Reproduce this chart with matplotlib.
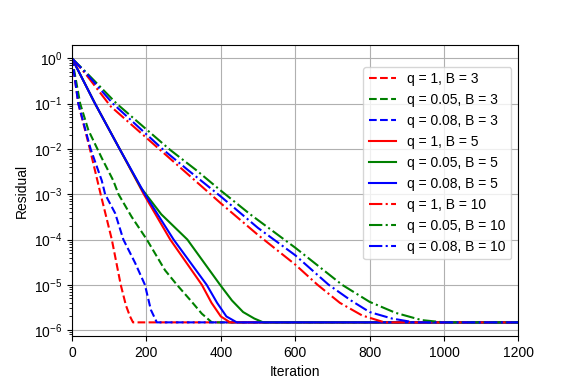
"""Residual vs iteration for different q and block sizes B."""

import matplotlib.pyplot as plt

plt.rcParams["font.family"] = ["Liberation Sans", "DejaVu Sans"]
plt.rcParams["mathtext.fontset"] = "custom"
plt.rcParams["mathtext.rm"] = "Liberation Sans"
plt.rcParams["font.size"] = 10

# values (iteration, residual)
it_q1_b3 = [0, 17, 48, 77, 107, 131, 145, 156, 164, 1200]
res_q1_b3 = [1.0, 1e-1, 1e-2, 1e-3, 1e-4, 1e-5, 3.5e-6, 2.0e-6, 1.48e-6, 1.48e-6]

it_q005_b3 = [0, 22, 44, 80, 111, 125, 160, 201, 250, 282, 320, 349, 376, 1200]
res_q005_b3 = [1.0, 1e-1, 2.6e-2, 6.3e-3, 2.0e-3, 1e-3, 3.2e-4, 1e-4, 2.1e-5,
               1e-5, 4.4e-6, 2.3e-6, 1.48e-6, 1.48e-6]

it_q008_b3 = [0, 17, 50, 80, 89, 116, 138, 170, 196, 212, 228, 1200]
res_q008_b3 = [1.0, 1e-1, 1e-2, 2.0e-3, 1e-3, 3.8e-4, 1e-4, 3.0e-5, 1e-5,
               2.8e-6, 1.48e-6, 1.48e-6]

it_q1_b5 = [0, 62, 128, 193, 264, 349, 375, 400, 425, 1200]
res_q1_b5 = [1.0, 1e-1, 1e-2, 1e-3, 1e-4, 1e-5, 4.0e-6, 2.0e-6, 1.48e-6, 1.48e-6]

it_q005_b5 = [0, 62, 128, 185, 240, 310, 398, 430, 460, 490, 514, 1200]
res_q005_b5 = [1.0, 1e-1, 1e-2, 1.4e-3, 3.6e-4, 1e-4, 1e-5, 4.5e-6, 2.5e-6,
               1.8e-6, 1.48e-6, 1.48e-6]

it_q008_b5 = [0, 62, 128, 196, 273, 362, 390, 415, 443, 1200]
res_q008_b5 = [1.0, 1e-1, 1e-2, 1e-3, 1e-4, 1e-5, 4.0e-6, 2.0e-6, 1.48e-6, 1.48e-6]

it_q1_b10 = [0, 35, 104, 237, 299, 400, 500, 600, 660, 720, 780, 840, 1200]
res_q1_b10 = [1.0, 4.7e-1, 8.7e-2, 9.5e-3, 3.4e-3, 6.3e-4, 1.26e-4, 2.8e-5,
              1e-5, 4.0e-6, 2.1e-6, 1.48e-6, 1.48e-6]

it_q005_b10 = [0, 35, 120, 264, 334, 400, 479, 600, 726, 800, 870, 940, 1000, 1200]
res_q005_b10 = [1.0, 5.2e-1, 1e-1, 9.5e-3, 3.4e-3, 1.2e-3, 3.6e-4, 6.6e-5,
                1e-5, 4.2e-6, 2.4e-6, 1.66e-6, 1.48e-6, 1.48e-6]

it_q008_b10 = [0, 35, 110, 246, 312, 400, 500, 600, 690, 750, 800, 860, 920, 1200]
res_q008_b10 = [1.0, 5.0e-1, 1e-1, 9.5e-3, 3.4e-3, 8.9e-4, 1.8e-4, 4.5e-5,
                1e-5, 4.5e-6, 2.5e-6, 1.8e-6, 1.48e-6, 1.48e-6]

y_ticks = [1e-6, 1e-5, 1e-4, 1e-3, 1e-2, 1e-1, 1e0]

series = [
    (it_q1_b3, res_q1_b3, "r", "--", "q = 1, B = 3"),
    (it_q005_b3, res_q005_b3, "g", "--", "q = 0.05, B = 3"),
    (it_q008_b3, res_q008_b3, "b", "--", "q = 0.08, B = 3"),
    (it_q1_b5, res_q1_b5, "r", "-", "q = 1, B = 5"),
    (it_q005_b5, res_q005_b5, "g", "-", "q = 0.05, B = 5"),
    (it_q008_b5, res_q008_b5, "b", "-", "q = 0.08, B = 5"),
    (it_q1_b10, res_q1_b10, "r", "-.", "q = 1, B = 10"),
    (it_q005_b10, res_q005_b10, "g", "-.", "q = 0.05, B = 10"),
    (it_q008_b10, res_q008_b10, "b", "-.", "q = 0.08, B = 10"),
]

fig, ax = plt.subplots(figsize=(5.76, 3.84), dpi=100)
fig.subplots_adjust(left=0.125, right=0.9, top=0.882, bottom=0.125)

for its, res, color, ls, label in series:
    ax.semilogy(its, res, color=color, linestyle=ls, linewidth=1.5, label=label)

ax.set_xlim(0, 1200)
ax.set_yticks(y_ticks)
ax.set_ylim(7.4e-7, 1.94)
ax.set_xlabel("Iteration")
ax.set_ylabel("Residual")
ax.grid(True)
ax.legend(loc="upper right", bbox_to_anchor=(1.0, 0.95))

plt.savefig("out.png", dpi=100)
